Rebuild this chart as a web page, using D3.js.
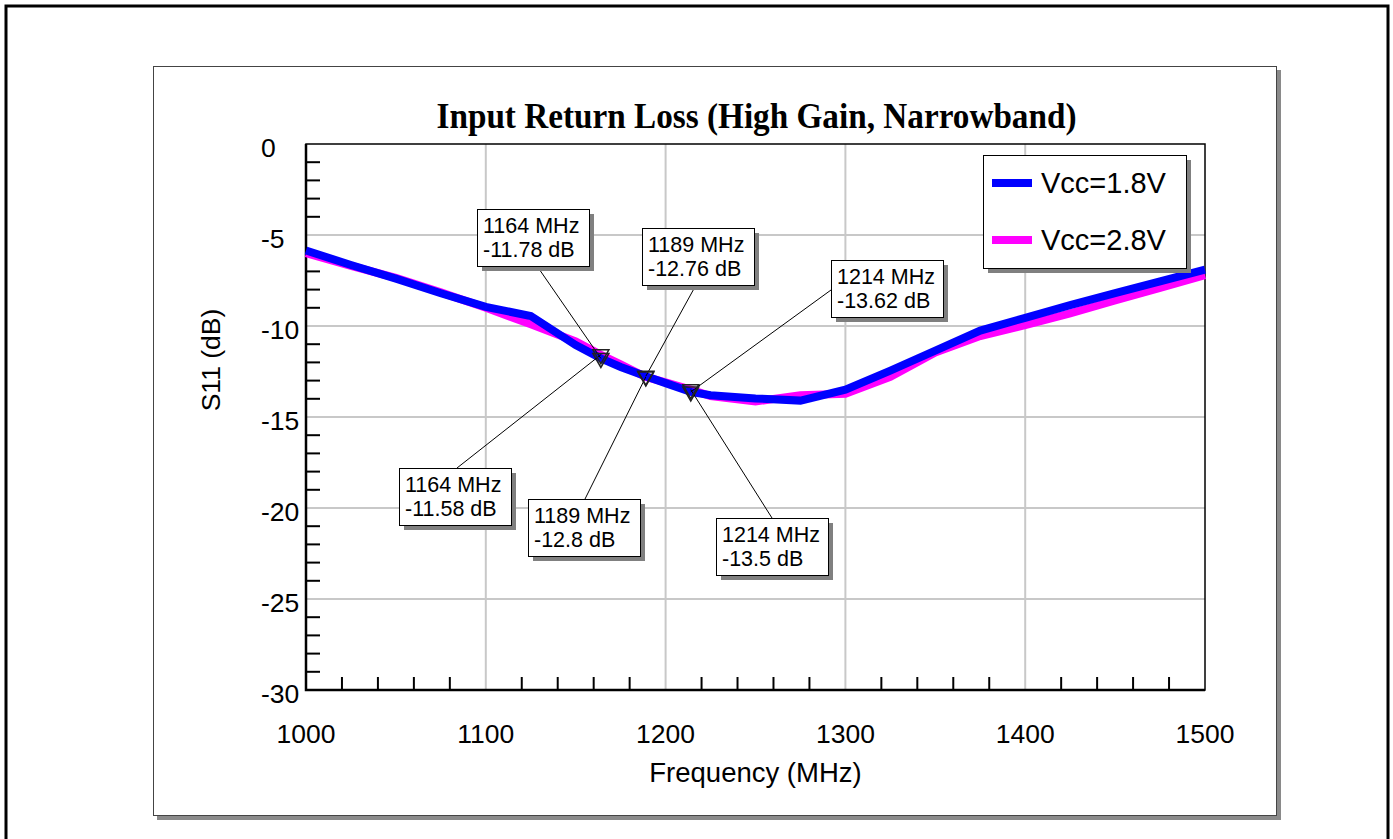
<!DOCTYPE html>
<html>
<head>
<meta charset="utf-8">
<script src="https://cdn.jsdelivr.net/npm/d3@7"></script>
<style>
  html, body { margin: 0; padding: 0; background: #fff; }
  svg { display: block; }
</style>
</head>
<body>
<svg id="chart" width="1393" height="839"></svg>
<script>
// ---- data ---------------------------------------------------------------
const freqMHz = [1000, 1025, 1050, 1075, 1100, 1125, 1150, 1164, 1175, 1189, 1200, 1214, 1225,
                 1250, 1275, 1300, 1325, 1350, 1375, 1400, 1425, 1450, 1475, 1500];
const s11Vcc18 = [-5.85, -6.65, -7.4, -8.2, -8.95, -9.45, -11.05, -11.78, -12.25, -12.76, -13.14, -13.62, -13.8,
                  -13.98, -14.1, -13.5, -12.45, -11.35, -10.25, -9.55, -8.85, -8.2, -7.55, -6.9];
const s11Vcc28 = [-6.0, -6.7, -7.35, -8.15, -9.0, -9.9, -10.85, -11.58, -12.1, -12.8, -13.1, -13.5, -13.85,
                  -14.15, -13.8, -13.72, -12.8, -11.45, -10.55, -9.95, -9.3, -8.6, -7.9, -7.2];
const seriesNames = ["Vcc=1.8V", "Vcc=2.8V"];
const seriesColors = ["#0000ff", "#ff00ff"];

const markerFreqs = [1164, 1189, 1214];
const markerVcc18 = [-11.78, -12.76, -13.62];
const markerVcc28 = [-11.58, -12.8, -13.5];

const xTickValues = [1000, 1100, 1200, 1300, 1400, 1500];
const yTickValues = [0, -5, -10, -15, -20, -25, -30];

// ---- layout -------------------------------------------------------------
const plot = { left: 306, right: 1205, top: 144, bottom: 690 };
const font = "'Liberation Sans', Arial, sans-serif";

// callout boxes: top-left corner and the point on the box where the leader starts
const calloutBoxW = 112, calloutBoxH = 57;
const upperBoxes = [
  { x: 477, y: 209, ax: 60, ay: 57 },
  { x: 642, y: 228, ax: 54, ay: 57 },
  { x: 831, y: 260, ax: 0,  ay: 30 }
];
const lowerBoxes = [
  { x: 399, y: 468, ax: 58, ay: 0 },
  { x: 528, y: 499, ax: 57, ay: 0 },
  { x: 716, y: 518, ax: 56, ay: 0 }
];

const svg = d3.select("#chart");

const x = d3.scaleLinear().domain([1000, 1500]).range([plot.left, plot.right]);
const y = d3.scaleLinear().domain([-30, 0]).range([plot.bottom, plot.top]);

// outer page frame
svg.append("rect").attr("x", 6).attr("y", 6).attr("width", 1382).attr("height", 850)
  .attr("fill", "#fff").attr("stroke", "#000").attr("stroke-width", 3);

// chart panel with drop shadow
svg.append("rect").attr("x", 157).attr("y", 70).attr("width", 1124).attr("height", 750)
  .attr("fill", "#8a8a8a");
svg.append("rect").attr("x", 153.5).attr("y", 66.5).attr("width", 1123).attr("height", 749)
  .attr("fill", "#fff").attr("stroke", "#444").attr("stroke-width", 1);

// title
svg.append("text")
  .attr("x", (plot.left + plot.right) / 2 + 1).attr("y", 128)
  .attr("text-anchor", "middle")
  .attr("font-family", "'Liberation Serif', 'Times New Roman', serif")
  .attr("font-weight", "bold").attr("font-size", 35)
  .attr("textLength", 640).attr("lengthAdjust", "spacingAndGlyphs")
  .text("Input Return Loss (High Gain, Narrowband)");

// grid
const grid = svg.append("g").attr("stroke", "#c8c8c8").attr("stroke-width", 2);
grid.selectAll("line.h").data(yTickValues.filter(v => v > -30 && v < 0)).join("line")
  .attr("x1", plot.left).attr("x2", plot.right)
  .attr("y1", d => y(d)).attr("y2", d => y(d));
grid.selectAll("line.v").data(xTickValues.filter(v => v > 1000 && v < 1500)).join("line")
  .attr("y1", plot.top).attr("y2", plot.bottom)
  .attr("x1", d => x(d)).attr("x2", d => x(d));

// minor ticks (every 20 MHz and every 1 dB, majors carry grid lines instead)
const xMinor = d3.range(1020, 1500, 20).filter(v => v % 100 !== 0);
const yMinor = d3.range(-29, 0, 1).filter(v => v % 5 !== 0);
const ticks = svg.append("g").attr("stroke", "#000").attr("stroke-width", 2);
ticks.selectAll("line.xm").data(xMinor).join("line")
  .attr("x1", d => x(d)).attr("x2", d => x(d))
  .attr("y1", plot.bottom).attr("y2", plot.bottom - 13);
ticks.selectAll("line.ym").data(yMinor).join("line")
  .attr("y1", d => y(d)).attr("y2", d => y(d))
  .attr("x1", plot.left).attr("x2", plot.left + 14);

// plot frame
svg.append("rect").attr("x", plot.left).attr("y", plot.top)
  .attr("width", plot.right - plot.left).attr("height", plot.bottom - plot.top)
  .attr("fill", "none").attr("stroke", "#000").attr("stroke-width", 1.5);
svg.append("path")
  .attr("d", `M${plot.left},${plot.top}V${plot.bottom}H${plot.right}`)
  .attr("fill", "none").attr("stroke", "#000").attr("stroke-width", 2.5);

// tick labels
svg.append("g").selectAll("text").data(xTickValues).join("text")
  .attr("x", d => x(d)).attr("y", 743)
  .attr("text-anchor", "middle").attr("font-family", font).attr("font-size", 26.5)
  .text(d => d);
svg.append("g").selectAll("text").data(yTickValues).join("text")
  .attr("x", 261).attr("y", d => y(d) + 13)
  .attr("text-anchor", "start").attr("font-family", font).attr("font-size", 26.5)
  .text(d => d);

// axis titles
svg.append("text")
  .attr("x", (plot.left + plot.right) / 2).attr("y", 782)
  .attr("text-anchor", "middle").attr("font-family", font).attr("font-size", 27.5)
  .text("Frequency (MHz)");
svg.append("text")
  .attr("transform", "translate(220,360) rotate(-90)")
  .attr("text-anchor", "middle").attr("font-family", font).attr("font-size", 26.5)
  .text("S11 (dB)");

// traces: 2.8 V underneath, 1.8 V on top
const line = d3.line().x((d, i) => x(freqMHz[i])).y(d => y(d));
const traces = [s11Vcc28, s11Vcc18];
const traceColors = [seriesColors[1], seriesColors[0]];
svg.append("g").selectAll("path").data(traces).join("path")
  .attr("d", d => line(d))
  .attr("fill", "none")
  .attr("stroke", (d, i) => traceColors[i])
  .attr("stroke-width", 8)
  .attr("stroke-linejoin", "miter");

// marker callouts
function drawCallouts(values, boxes) {
  const g = svg.append("g");
  markerFreqs.forEach((f, i) => {
    const px = x(f), py = y(values[i]);
    const b = boxes[i];
    // leader
    g.append("line")
      .attr("x1", b.x + b.ax).attr("y1", b.y + b.ay)
      .attr("x2", px).attr("y2", py)
      .attr("stroke", "#000").attr("stroke-width", 1);
    // inverted triangle on the trace
    g.append("path")
      .attr("d", `M${px - 8},${py - 5}L${px + 8},${py - 5}L${px},${py + 9}Z`)
      .attr("fill", "none").attr("stroke", "#222").attr("stroke-width", 1.5);
    // box with shadow
    g.append("rect").attr("x", b.x + 5).attr("y", b.y + 5)
      .attr("width", calloutBoxW).attr("height", calloutBoxH).attr("fill", "#808080");
    g.append("rect").attr("x", b.x + 0.5).attr("y", b.y + 0.5)
      .attr("width", calloutBoxW).attr("height", calloutBoxH)
      .attr("fill", "#fff").attr("stroke", "#000").attr("stroke-width", 1);
    const t = g.append("text").attr("font-family", font).attr("font-size", 21.5);
    t.append("tspan").attr("x", b.x + 6).attr("y", b.y + 24).text(`${f} MHz`);
    t.append("tspan").attr("x", b.x + 6).attr("y", b.y + 48).text(`${values[i]} dB`);
  });
}
drawCallouts(markerVcc18, upperBoxes);
drawCallouts(markerVcc28, lowerBoxes);

// legend
const lg = svg.append("g");
lg.append("rect").attr("x", 988).attr("y", 160).attr("width", 203).attr("height", 113).attr("fill", "#808080");
lg.append("rect").attr("x", 983.5).attr("y", 155.5).attr("width", 203).attr("height", 113)
  .attr("fill", "#fff").attr("stroke", "#000").attr("stroke-width", 1);
seriesNames.forEach((name, i) => {
  const ly = 183 + i * 57;
  lg.append("line").attr("x1", 992).attr("x2", 1032).attr("y1", ly).attr("y2", ly)
    .attr("stroke", seriesColors[i]).attr("stroke-width", 8);
  lg.append("text").attr("x", 1041).attr("y", ly + 10)
    .attr("font-family", font).attr("font-size", 29).text(name);
});
</script>
</body>
</html>
